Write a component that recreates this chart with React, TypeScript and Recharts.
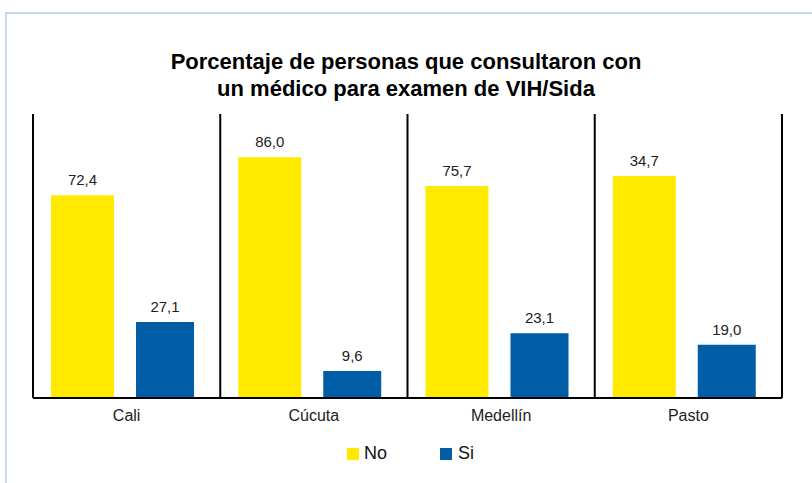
import React from 'react';
import { BarChart, Bar, XAxis, YAxis, CartesianGrid, LabelList, Rectangle } from 'recharts';

const cities = ['Cali', 'Cúcuta', 'Medellín', 'Pasto'];
// bar heights (Pasto "No" bar is drawn taller than its printed label)
const noValues = [72.4, 86.0, 75.7, 79.3];
const noLabels = ['72,4', '86,0', '75,7', '34,7'];
const siValues = [27.1, 9.6, 23.1, 19.0];
const siLabels = ['27,1', '9,6', '23,1', '19,0'];

const YELLOW = '#FFEA00';
const BLUE = '#005DA6';
const FONT = '"Liberation Sans", Arial, sans-serif';
const SHIFT = -4; // bar groups sit a bit left of the category centre

const data = cities.map((city, i) => ({ city, no: noValues[i], si: siValues[i] }));

const shiftedBar = (props: any) => <Rectangle {...props} x={props.x + SHIFT} />;

const makeLabel = (labels: string[]) => (props: any) => {
  const { x, y, width, index } = props;
  return (
    <text
      x={x + SHIFT + width / 2}
      y={y - 10}
      textAnchor="middle"
      fontSize={15}
      fontFamily={FONT}
      fill="#222"
    >
      {labels[index]}
    </text>
  );
};

export default function App() {
  return (
    <div
      style={{
        position: 'absolute',
        left: 0,
        top: 0,
        width: 812,
        height: 483,
        background: '#fff',
        fontFamily: FONT,
      }}
    >
      {/* light blue frame */}
      <div
        style={{
          position: 'absolute',
          left: 5,
          top: 12,
          right: 0,
          bottom: 0,
          borderLeft: '2px solid #c8d7ee',
          borderTop: '2px solid #c8d7ee',
        }}
      />
      <div
        style={{
          position: 'absolute',
          top: 48,
          left: 0,
          width: 812,
          textAlign: 'center',
          fontWeight: 'bold',
          fontSize: 22,
          lineHeight: '27px',
          color: '#000',
        }}
      >
        Porcentaje de personas que consultaron con
        <br />
        un médico para examen de VIH/Sida
      </div>
      <div style={{ position: 'absolute', left: 0, top: 0 }}>
        <BarChart
          width={812}
          height={483}
          data={data}
          margin={{ top: 114, right: 30, left: 33, bottom: 55 }}
          barGap={22}
        >
          <CartesianGrid
            horizontal={false}
            stroke="#000"
            strokeWidth={2}
            verticalCoordinatesGenerator={({ offset }: any) =>
              [0, 1, 2, 3, 4].map((i) => offset.left + (i * offset.width) / 4)
            }
          />
          <YAxis hide domain={[0, 101.4]} />
          <XAxis
            dataKey="city"
            axisLine={{ stroke: '#000', strokeWidth: 2 }}
            tickLine={false}
            height={30}
            tick={{ fontSize: 16, fill: '#222', fontFamily: FONT }}
            tickMargin={6}
          />
          <Bar dataKey="no" name="No" fill={YELLOW} barSize={63} shape={shiftedBar} isAnimationActive={false}>
            <LabelList dataKey="no" content={makeLabel(noLabels)} />
          </Bar>
          <Bar dataKey="si" name="Si" fill={BLUE} barSize={58} shape={shiftedBar} isAnimationActive={false}>
            <LabelList dataKey="si" content={makeLabel(siLabels)} />
          </Bar>
        </BarChart>
      </div>
      {/* legend */}
      <div
        style={{
          position: 'absolute',
          top: 443,
          left: 347,
          display: 'flex',
          alignItems: 'center',
          fontSize: 18,
          color: '#111',
        }}
      >
        <span style={{ display: 'inline-block', width: 12, height: 12, background: YELLOW, marginRight: 5 }} />
        <span style={{ marginRight: 53 }}>No</span>
        <span style={{ display: 'inline-block', width: 12, height: 12, background: BLUE, marginRight: 6 }} />
        <span>Si</span>
      </div>
    </div>
  );
}
